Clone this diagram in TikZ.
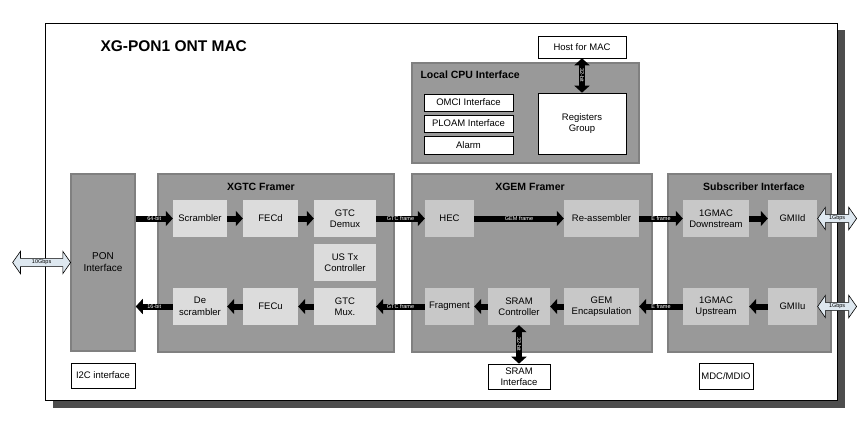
\documentclass[tikz,border=0pt]{standalone}
\usepackage{fontspec}
\setmainfont{Liberation Sans}
\usetikzlibrary{arrows.meta,shapes.arrows,calc}

\definecolor{shadowgray}{RGB}{77,77,77}
\definecolor{groupgray}{RGB}{153,153,153}
\definecolor{groupedge}{RGB}{128,128,128}
\definecolor{blocklight}{RGB}{220,220,220}
\definecolor{blockmid}{RGB}{200,200,200}
\definecolor{linkblue}{RGB}{222,232,240}

\tikzset{
  group/.style={fill=groupgray, draw=groupedge, line width=1.5pt},
  grouptitle/.style={font=\fontsize{10.5}{12}\selectfont\bfseries},
  block/.style={fill=blocklight, align=center, inner sep=1pt,
    font=\fontsize{9.5}{11.5}\selectfont},
  blockb/.style={block, fill=blockmid},
  whitebox/.style={fill=white, draw=black, line width=0.6pt, align=center,
    inner sep=1pt, font=\fontsize{9.5}{11.5}\selectfont},
  bus/.style={line width=6pt, -{Triangle[length=7pt,width=15pt]}},
  busboth/.style={line width=6pt,
    {Triangle[length=7pt,width=15pt]}-{Triangle[length=7pt,width=15pt]}},
  buslbl/.style={text=white, inner sep=0pt, font=\fontsize{5.5}{6}\selectfont},
  link/.style={double arrow, draw=black, fill=linkblue, line width=0.6pt,
    inner sep=1.2pt, double arrow tip angle=110, double arrow head indent=0pt,
    minimum width=22pt, font=\fontsize{5.5}{6}\selectfont}
}

\begin{document}
\begin{tikzpicture}[x=1pt,y=-1pt]
    \useasboundingbox (0,0) rectangle (867,421);
    % frame with shadow
    \fill[shadowgray] (53,30) rectangle (845,408);
    \draw[fill=white, line width=0.8pt] (45,23) rectangle (837,400);
    \node[anchor=west, font=\fontsize{15.5}{17}\selectfont\bfseries] (title) at (97,46) {XG-PON1 ONT MAC};

    % local cpu part
    \node[whitebox, minimum width=88pt, minimum height=22pt] (host) at (582,47) {Host for MAC};
    \node[group, minimum width=227pt, minimum height=100pt] (cpu) at (525.5,113) {};
    \node[grouptitle, anchor=west] (cputitle) at (417,75) {Local CPU Interface};
    \node[whitebox, minimum width=89pt, minimum height=17pt] (omci) at (468.5,102.5) {OMCI Interface};
    \node[whitebox, minimum width=89pt, minimum height=17pt] (ploam) at (468.5,123.5) {PLOAM Interface};
    \node[whitebox, minimum width=89pt, minimum height=18pt] (alarm) at (468.5,145) {Alarm};
    \node[whitebox, minimum width=88pt, minimum height=61pt] (regs) at (582,123.5) {Registers\\Group};
    \draw[busboth] (host.south) -- node[buslbl, rotate=-90] {32-bit} (regs.north);

    % groups
    \node[group, minimum width=64pt, minimum height=177pt, align=center,
      font=\fontsize{10}{12}\selectfont] (pon) at (103,262.5) {PON\\Interface};
    \node[group, minimum width=236pt, minimum height=178pt] (xgtc) at (276,263) {};
    \node[group, minimum width=240pt, minimum height=178pt] (xgem) at (532,263) {};
    \node[group, minimum width=163pt, minimum height=178pt] (sub) at (749.5,263) {};
    \node[grouptitle] (xgtctitle) at (261,187) {XGTC Framer};
    \node[grouptitle] (xgemtitle) at (530,187) {XGEM Framer};
    \node[grouptitle] (subtitle) at (754,187) {Subscriber Interface};

    % XGTC framer
    \node[block, minimum width=54pt, minimum height=37pt] (scr) at (200,218.5) {Scrambler};
    \node[block, minimum width=55pt, minimum height=37pt] (fecd) at (270.5,218.5) {FECd};
    \node[block, minimum width=62pt, minimum height=37pt] (demux) at (345,218.5) {GTC\\Demux};
    \node[block, minimum width=62pt, minimum height=37pt] (ustx) at (345,262.5) {US Tx\\Controller};
    \node[block, minimum width=54pt, minimum height=37pt] (descr) at (200,306.5) {De\\scrambler};
    \node[block, minimum width=55pt, minimum height=37pt] (fecu) at (270.5,306.5) {FECu};
    \node[block, minimum width=62pt, minimum height=37pt] (mux) at (345,306.5) {GTC\\Mux.};

    % XGEM framer
    \node[blockb, minimum width=49pt, minimum height=37pt] (hec) at (449.5,218.5) {HEC};
    \node[blockb, minimum width=75pt, minimum height=37pt] (reasm) at (601.5,218.5) {Re-assembler};
    \node[blockb, minimum width=49pt, minimum height=37pt] (frag) at (449.5,306.5) {Fragment};
    \node[blockb, minimum width=62pt, minimum height=37pt] (sramc) at (519,306.5) {SRAM\\Controller};
    \node[blockb, minimum width=75pt, minimum height=37pt] (gemenc) at (601.5,306.5) {GEM\\Encapsulation};

    % subscriber interface
    \node[blockb, minimum width=66pt, minimum height=37pt] (gmacd) at (716,218.5) {1GMAC\\Downstream};
    \node[blockb, minimum width=49pt, minimum height=37pt] (gmiid) at (792.5,218.5) {GMIId};
    \node[blockb, minimum width=66pt, minimum height=37pt] (gmacu) at (716,306.5) {1GMAC\\Upstream};
    \node[blockb, minimum width=49pt, minimum height=37pt] (gmiiu) at (792.5,306.5) {GMIIu};

    % bottom boxes
    \node[whitebox, minimum width=64pt, minimum height=25pt] (i2c) at (103,375.5) {I2C interface};
    \node[whitebox, minimum width=62pt, minimum height=25pt] (sramif) at (519,376.5) {SRAM\\Interface};
    \node[whitebox, minimum width=54pt, minimum height=26pt] (mdc) at (726,376) {MDC/MDIO};

    % downstream
    \draw[bus] (pon.east |- scr.west) -- node[buslbl] {64-bit} (scr.west);
    \draw[bus] (scr) -- (fecd);
    \draw[bus] (fecd) -- (demux);
    \draw[bus] (demux) -- node[buslbl] {GTC frame} (hec);
    \draw[bus] (hec) -- node[buslbl] {GEM frame} (reasm);
    \draw[bus] (reasm) -- node[buslbl] {E frame} (gmacd);
    \draw[bus] (gmacd) -- (gmiid);

    % upstream
    \draw[bus] (gmiiu) -- (gmacu);
    \draw[bus] (gmacu) -- node[buslbl] {E frame} (gemenc);
    \draw[bus] (gemenc) -- (sramc);
    \draw[bus] (sramc) -- (frag);
    \draw[bus] (frag) -- node[buslbl] {GTC frame} (mux);
    \draw[bus] (mux) -- (fecu);
    \draw[bus] (fecu) -- (descr);
    \draw[bus] (descr.west) -- node[buslbl] {16-bit} (pon.east |- descr.west);
    \draw[busboth] (sramc.south) -- node[buslbl, rotate=-90] {32-bit} (sramif.north);

    % external links
    \coordinate (optic) at (13,262.5);
    \coordinate (ethd) at (857,218.5);
    \coordinate (ethu) at (857,306.5);
    \node[link, minimum height=58pt] (tengb) at ($(optic)!.5!(pon.west)$) {10Gbps};
    \node[link, minimum height=39pt] (onegbd) at ($(gmiid.east)!.5!(ethd)$) {1Gbps};
    \node[link, minimum height=39pt] (onegbu) at ($(gmiiu.east)!.5!(ethu)$) {1Gbps};
\end{tikzpicture}
\end{document}
